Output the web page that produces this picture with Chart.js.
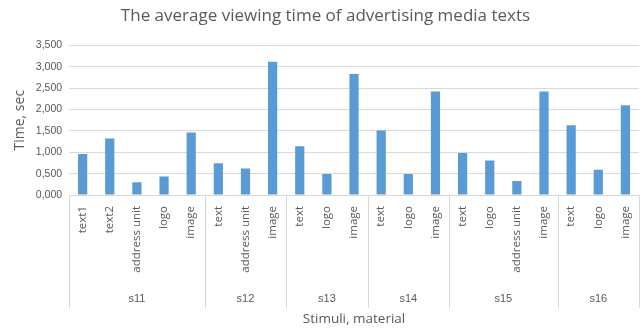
<!DOCTYPE html>
<html>
<head>
<meta charset="utf-8">
<script src="https://cdn.jsdelivr.net/npm/chart.js@4.4.0/dist/chart.umd.min.js"></script>
<style>
  html, body { margin: 0; padding: 0; background: #fff; }
  #wrap { width: 643px; height: 329px; }
</style>
</head>
<body>
<div id="wrap"><canvas id="chart" width="643" height="329"></canvas></div>
<script>
// ---- data ----
const categories = [
  "text1", "text2", "address unit", "logo", "image",
  "text", "address unit", "image",
  "text", "logo", "image",
  "text", "logo", "image",
  "text", "logo", "address unit", "image",
  "text", "logo", "image"
];
const groupNames = ["s11", "s12", "s13", "s14", "s15", "s16"];
const groupSizes = [5, 3, 3, 3, 4, 3];
const viewTimes = [
  0.96, 1.32, 0.30, 0.43, 1.46,
  0.74, 0.62, 3.12,
  1.14, 0.49, 2.83,
  1.51, 0.49, 2.42,
  0.98, 0.81, 0.33, 2.42,
  1.63, 0.59, 2.10
];
const yTicks = [0, 0.5, 1, 1.5, 2, 2.5, 3, 3.5];

const GREY_TEXT = "#595959";
const GRID = "#d9d9d9";
const SANS = "'Open Sans', 'DejaVu Sans', sans-serif";
const NARROW = "'Liberation Sans', Arial, sans-serif";

// draws the s11..s16 group row under the category labels
const groupAxis = {
  id: "groupAxis",
  afterDraw(chart) {
    const x = chart.scales.x;
    const ctx = chart.ctx;
    const lineBottom = 308;
    ctx.save();
    ctx.strokeStyle = GRID;
    ctx.lineWidth = 1;
    ctx.fillStyle = GREY_TEXT;
    ctx.font = "11px " + NARROW;
    ctx.textAlign = "center";
    ctx.textBaseline = "middle";
    let start = 0;
    const edges = [x.getPixelForValue(-0.5)];
    groupSizes.forEach((n, i) => {
      const end = start + n;
      const x0 = x.getPixelForValue(start - 0.5);
      const x1 = x.getPixelForValue(end - 0.5);
      edges.push(x1);
      ctx.fillText(groupNames[i], (x0 + x1) / 2, 299);
      start = end;
    });
    edges.forEach(px => {
      const p = Math.round(px) + 0.5;
      ctx.beginPath();
      ctx.moveTo(p, x.top);
      ctx.lineTo(p, lineBottom);
      ctx.stroke();
    });
    ctx.restore();
  }
};

new Chart(document.getElementById("chart"), {
  type: "bar",
  data: {
    labels: categories,
    datasets: [{
      label: "Time, sec",
      data: viewTimes,
      backgroundColor: "#5b9bd5",
      categoryPercentage: 1,
      barPercentage: 0.34
    }]
  },
  options: {
    responsive: false,
    animation: false,
    layout: { padding: { left: 12, right: 4, top: 0, bottom: 0 } },
    plugins: {
      legend: { display: false },
      tooltip: { enabled: false },
      title: {
        display: true,
        text: "The average viewing time of advertising media texts",
        color: GREY_TEXT,
        font: { family: SANS, size: 17, weight: "normal" },
        padding: { top: 6, bottom: 19 }
      }
    },
    scales: {
      x: {
        grid: { display: false },
        border: { display: true, color: GRID },
        ticks: {
          color: GREY_TEXT,
          font: { family: SANS, size: 11.5 },
          minRotation: 90,
          maxRotation: 90,
          autoSkip: false,
          padding: 3
        },
        title: {
          display: true,
          text: "Stimuli, material",
          color: GREY_TEXT,
          font: { family: SANS, size: 13.5 },
          padding: { top: 0, bottom: 2 }
        },
        afterFit(scale) { scale.height = 134; }
      },
      y: {
        min: 0,
        max: 3.5,
        afterBuildTicks(scale) { scale.ticks = yTicks.map(v => ({ value: v })); },
        grid: { color: GRID, drawTicks: false },
        border: { display: false },
        ticks: {
          color: GREY_TEXT,
          font: { family: NARROW, size: 10.5 },
          padding: 7,
          callback: v => v.toFixed(3).replace(".", ",")
        },
        title: {
          display: true,
          text: "Time, sec",
          color: GREY_TEXT,
          font: { family: SANS, size: 14 },
          padding: { top: 0, bottom: 0 }
        }
      }
    }
  },
  plugins: [groupAxis]
});
</script>
</body>
</html>
